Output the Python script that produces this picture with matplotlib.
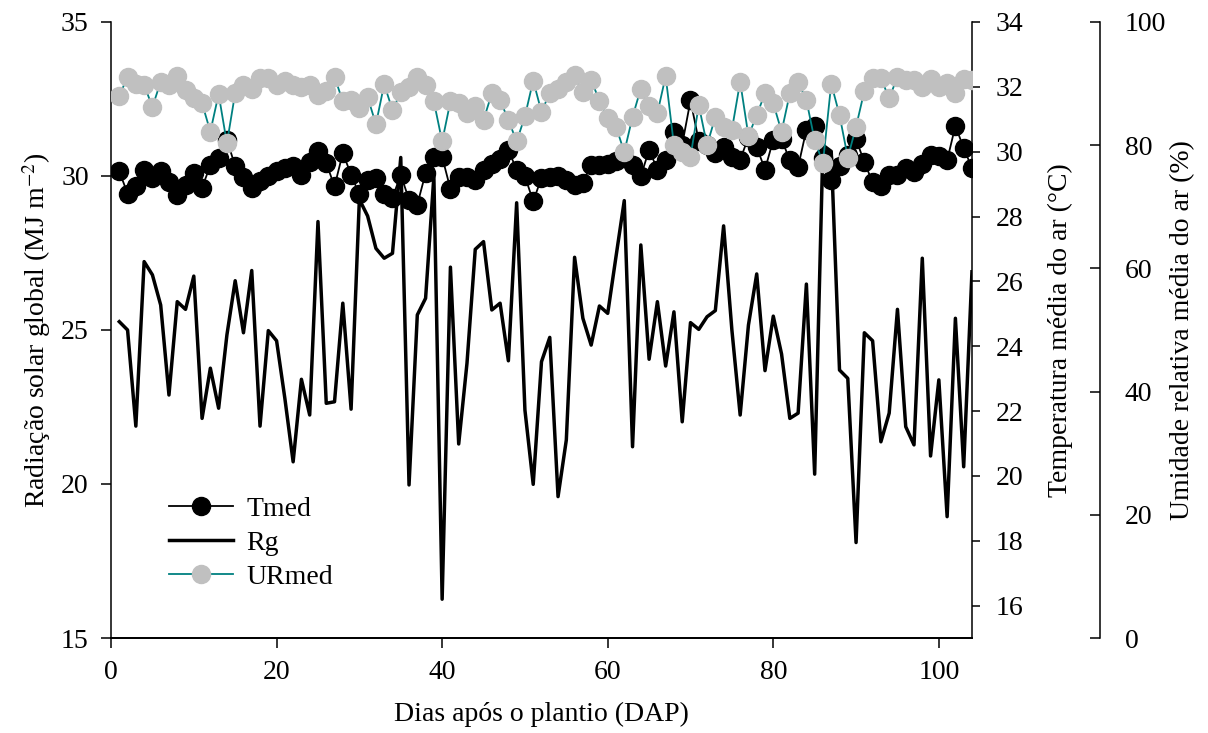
import matplotlib
matplotlib.use('Agg')
from matplotlib import pyplot as plt

# daily data, days after planting
dap = list(range(1, 105))

rg = [25.27, 25.0, 21.88, 27.22, 26.79, 25.81, 22.89, 25.92, 25.67, 26.75,
      22.13, 23.76, 22.46, 24.84, 26.60, 24.91, 26.93, 21.88, 24.98, 24.65,
      22.78, 20.72, 23.40, 22.24, 28.52, 22.62, 22.67, 25.87, 22.43, 29.24,
      28.7, 27.65, 27.33, 27.49, 30.6, 19.97, 25.49, 26.03, 29.98, 16.26,
      27.04, 21.30, 23.92, 27.62, 27.87, 25.65, 25.87, 24.0, 29.13, 22.40,
      19.99, 23.97, 24.76, 19.59, 21.43, 27.36, 25.38, 24.51, 25.78, 25.54,
      27.38, 29.20, 21.21, 27.76, 24.05, 25.92, 23.83, 25.59, 22.02, 25.24,
      25.02, 25.43, 25.63, 28.38, 25.0, 22.24, 25.16, 26.82, 23.68, 25.45,
      24.22, 22.13, 22.30, 26.49, 20.32, 31.0, 30.8, 23.70, 23.43, 18.10,
      24.91, 24.65, 21.37, 22.30, 25.67, 21.86, 21.27, 27.33, 20.91, 23.38,
      18.94, 25.38, 20.56, 26.89]

tmed = [29.39, 28.71, 28.95, 29.45, 29.19, 29.39, 29.06, 28.65, 28.98, 29.34,
        28.89, 29.58, 29.79, 30.37, 29.55, 29.22, 28.88, 29.09, 29.26, 29.39,
        29.50, 29.57, 29.29, 29.67, 30.01, 29.65, 28.93, 29.96, 29.29, 28.68,
        29.14, 29.19, 28.68, 28.58, 29.29, 28.52, 28.37, 29.34, 29.84, 29.84,
        28.85, 29.22, 29.22, 29.12, 29.45, 29.63, 29.78, 30.04, 29.45, 29.24,
        28.47, 29.19, 29.22, 29.24, 29.14, 28.98, 29.04, 29.60, 29.60, 29.63,
        29.70, 29.8, 29.60, 29.24, 30.06, 29.45, 29.73, 30.62, 30.22, 31.58,
        30.33, 30.2, 29.96, 30.14, 29.84, 29.75, 30.45, 30.14, 29.45, 30.37,
        30.39, 29.73, 29.53, 30.68, 30.78, 29.8, 29.14, 29.57, 29.9, 30.39,
        29.67, 29.06, 28.93, 29.29, 29.29, 29.50, 29.36, 29.63, 29.91, 29.86,
        29.73, 30.80, 30.11, 29.50]

urmed = [88.0, 91.1, 89.9, 89.8, 86.2, 90.3, 89.8, 91.2, 89.0, 87.6,
         86.8, 82.2, 88.3, 80.3, 88.5, 89.8, 89.1, 90.9, 90.9, 89.8,
         90.5, 89.8, 89.5, 89.8, 88.1, 88.8, 91.1, 87.1, 87.3, 86.0,
         87.8, 83.4, 89.9, 85.7, 88.6, 89.5, 91.1, 89.8, 87.1, 80.6,
         87.1, 86.8, 85.3, 86.3, 84.1, 88.4, 87.3, 84.1, 80.6, 84.7,
         90.5, 85.4, 88.5, 89.2, 90.3, 91.4, 88.7, 90.6, 87.2, 84.4,
         83.0, 78.9, 84.6, 89.2, 86.3, 85.2, 91.2, 80.0, 78.9, 78.1,
         86.5, 80.0, 84.6, 83.0, 82.5, 90.3, 81.5, 84.9, 88.4, 86.8,
         82.2, 88.4, 90.3, 87.3, 80.8, 77.1, 90.0, 84.9, 78.0, 83.0,
         88.8, 90.9, 90.9, 87.6, 91.1, 90.6, 90.6, 89.5, 90.7, 89.5,
         90.1, 88.4, 90.7, 90.6]

plt.rcParams['font.family'] = ['Liberation Serif', 'DejaVu Serif']
plt.rcParams['mathtext.fontset'] = 'stix'
plt.rcParams['font.size'] = 20

fig = plt.figure(figsize=(12.08, 7.33), dpi=100)
ax = fig.add_axes([0.0919, 0.1296, 0.7127, 0.8404])
ax2 = ax.twinx()
ax3 = ax.twinx()

# Rg on the left axis
l_rg, = ax.plot(dap, rg, color='black', lw=2.5, label='Rg')
ax.set_xlim(0, 104)
ax.set_ylim(15, 35)
ax.set_xticks([0, 20, 40, 60, 80, 100])
ax.set_yticks([15, 20, 25, 30, 35])
ax.set_xlabel('Dias após o plantio (DAP)', labelpad=12)
ax.set_ylabel('Radiação solar global (MJ m$^{-2}$)', labelpad=6)
ax.spines['top'].set_visible(False)
ax.spines['right'].set_visible(False)
ax.tick_params(direction='out', length=7, width=1.1, pad=9)

# temperature
l_t, = ax2.plot(dap, tmed, color='black', lw=1.3, marker='o', ms=13,
                mfc='black', mec='black', label='Tmed')
ax2.set_ylim(15, 34)
ax2.set_yticks(range(16, 35, 2))
ax2.set_ylabel('Temperatura média do ar (°C)', labelpad=18)
ax2.spines['top'].set_visible(False)
ax2.spines['left'].set_visible(False)
ax2.tick_params(direction='out', length=6, width=1.1, pad=11)

# relative humidity
l_ur, = ax3.plot(dap, urmed, color='#008080', lw=1.3, marker='o', ms=13,
                 mfc='#C0C0C0', mec='#C0C0C0', label='URmed')
ax3.set_ylim(0, 100)
ax3.set_yticks([0, 20, 40, 60, 80, 100])
ax3.set_ylabel('Umidade relativa média do ar (%)', labelpad=3)
ax3.spines['right'].set_position(('axes', 1.1487))
ax3.spines['top'].set_visible(False)
ax3.spines['left'].set_visible(False)
ax3.tick_params(direction='in', length=7, width=1.1, pad=18)

for a in (ax, ax2, ax3):
    for s in a.spines.values():
        s.set_linewidth(1.1)

ax3.legend([l_t, l_rg, l_ur], ['Tmed', 'Rg', 'URmed'], loc='upper left',
           bbox_to_anchor=(0.038, 0.27), frameon=False, handlelength=2.3,
           labelspacing=0.3, handletextpad=0.5)

plt.savefig('out.png', dpi=100)
